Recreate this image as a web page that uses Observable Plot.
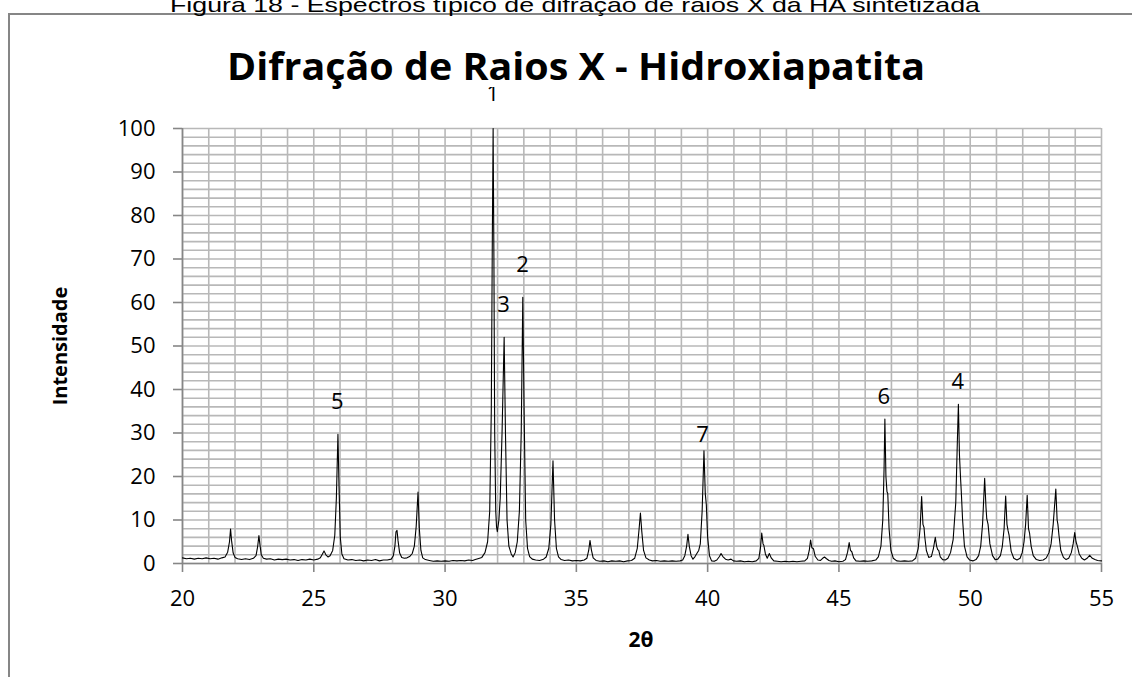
<!DOCTYPE html>
<html>
<head>
<meta charset="utf-8">
<script src="https://cdn.jsdelivr.net/npm/d3@7"></script>
<script src="https://cdn.jsdelivr.net/npm/@observablehq/plot@0.6"></script>
<style>
  html, body { margin: 0; padding: 0; background: #fff; overflow: hidden; }
</style>
</head>
<body>
<div id="chart"></div>
<script>
// ---- Data ----
const twoTheta = [
  20.00,20.15,20.30,20.45,20.60,20.75,20.90,21.05,21.20,21.35,21.50,21.62,21.72,21.79,21.83,21.87,21.93,22.00,22.10,22.25,
  22.40,22.55,22.70,22.80,22.86,22.91,22.95,23.00,23.08,23.20,23.35,23.50,23.65,23.80,23.95,24.10,24.25,24.40,24.55,24.70,
  24.85,25.00,25.15,25.25,25.33,25.39,25.46,25.54,25.62,25.72,25.80,25.86,25.92,25.96,26.01,26.07,26.15,26.30,26.45,26.60,
  26.75,26.90,27.05,27.20,27.35,27.50,27.65,27.80,27.95,28.03,28.09,28.13,28.17,28.21,28.27,28.35,28.45,28.55,28.65,28.75,
  28.83,28.90,28.97,29.02,29.08,29.15,29.25,29.40,29.55,29.70,29.85,30.00,30.15,30.30,30.45,30.60,30.75,30.90,31.05,31.15,
  31.25,31.40,31.52,31.62,31.70,31.76,31.80,31.83,31.86,31.89,31.93,31.96,31.99,32.05,32.10,32.17,32.25,32.30,32.36,32.43,
  32.52,32.59,32.67,32.75,32.83,32.90,32.96,33.01,33.07,33.14,33.22,33.32,33.45,33.60,33.75,33.85,33.95,34.03,34.11,34.17,
  34.24,34.32,34.42,34.55,34.70,34.85,35.00,35.15,35.30,35.40,35.47,35.52,35.57,35.64,35.75,35.90,36.05,36.20,36.35,36.50,
  36.65,36.80,36.95,37.10,37.22,37.32,37.39,37.44,37.49,37.56,37.65,37.78,37.90,38.05,38.20,38.35,38.50,38.65,38.80,38.95,
  39.05,39.13,39.20,39.25,39.30,39.37,39.44,39.52,39.60,39.66,39.72,39.79,39.86,39.91,39.95,40.00,40.07,40.15,40.25,40.35,
  40.45,40.51,40.58,40.68,40.78,40.89,40.98,41.10,41.25,41.40,41.55,41.70,41.85,41.95,42.01,42.06,42.11,42.14,42.20,42.27,
  42.35,42.42,42.52,42.65,42.80,42.95,43.10,43.25,43.40,43.55,43.70,43.80,43.87,43.92,43.97,44.03,44.10,44.20,44.30,44.38,
  44.45,44.53,44.62,44.72,44.85,45.00,45.15,45.25,45.33,45.39,45.44,45.49,45.56,45.65,45.80,45.95,46.10,46.25,46.40,46.50,
  46.60,46.67,46.72,46.75,46.79,46.83,46.86,46.91,46.98,47.07,47.20,47.35,47.50,47.65,47.80,47.92,48.02,48.09,48.15,48.20,
  48.24,48.27,48.33,48.42,48.52,48.60,48.67,48.72,48.76,48.80,48.86,48.95,49.05,49.15,49.25,49.35,49.45,49.51,49.55,49.59,
  49.63,49.66,49.71,49.78,49.88,49.98,50.10,50.22,50.32,50.40,50.47,50.55,50.60,50.63,50.68,50.75,50.85,50.95,51.05,51.15,
  51.22,51.29,51.35,51.40,51.44,51.48,51.56,51.66,51.78,51.90,51.98,52.05,52.11,52.17,52.22,52.26,52.32,52.40,52.52,52.65,
  52.78,52.90,53.00,53.08,53.16,53.26,53.31,53.34,53.38,53.45,53.55,53.65,53.75,53.85,53.92,53.98,54.03,54.08,54.15,54.25,
  54.35,54.45,54.55,54.65,54.75,54.85,55.00
];
const intensity = [
  1.3,1.1,1.2,1.0,1.2,1.1,1.3,1.1,1.2,1.0,1.3,1.5,2.6,5.0,7.9,5.2,2.4,1.4,1.1,0.9,
  1.1,0.9,1.2,1.8,3.8,6.4,4.3,2.0,1.2,1.0,1.1,0.8,1.0,0.9,1.0,0.8,0.9,0.7,0.9,0.8,
  1.0,0.8,1.0,1.3,2.2,2.9,2.0,1.5,1.8,3.0,6.5,15.0,29.7,18.0,6.0,2.2,1.1,0.8,0.9,0.7,
  0.8,0.6,0.8,0.7,0.9,0.6,0.8,0.8,1.0,1.8,4.0,7.3,7.6,5.2,2.4,1.4,1.2,1.3,1.6,2.3,
  4.0,8.5,16.4,8.0,3.0,1.3,0.9,0.7,0.5,0.6,0.5,0.6,0.5,0.7,0.6,0.7,0.6,0.8,0.7,0.9,
  1.1,1.4,2.5,5.0,12.0,35.0,75.0,100.0,70.0,30.0,12.0,8.4,7.3,10.0,15.0,30.0,52.0,30.0,10.0,4.0,
  2.2,1.5,2.5,5.0,12.0,30.0,61.2,35.0,10.0,3.5,1.6,1.0,0.8,0.7,1.0,1.5,3.5,9.0,23.6,10.0,
  3.5,1.5,0.9,0.7,0.8,0.6,0.7,0.6,0.8,1.2,3.0,5.3,3.2,1.3,0.7,0.5,0.6,0.4,0.6,0.5,
  0.6,0.4,0.6,0.7,1.2,3.5,8.0,11.6,7.5,3.0,1.3,0.8,0.6,0.7,0.5,0.6,0.5,0.6,0.5,0.6,
  0.8,1.8,4.0,6.7,4.0,1.8,1.0,1.6,2.4,3.0,4.5,12.0,25.9,16.0,13.5,6.0,1.8,0.6,0.5,0.8,
  1.6,2.3,1.6,1.0,0.8,1.0,0.6,0.5,0.6,0.4,0.5,0.4,0.6,1.2,3.5,7.0,4.5,4.2,2.2,1.2,
  2.3,1.3,0.6,0.5,0.4,0.5,0.4,0.5,0.4,0.5,0.6,1.2,3.0,5.4,3.6,3.4,1.6,0.8,0.7,1.2,
  1.5,1.1,0.7,0.5,0.6,0.4,0.5,0.9,2.6,4.8,3.0,2.7,1.3,0.6,0.5,0.6,0.5,0.6,0.8,1.5,
  4.0,10.0,22.0,33.2,20.0,16.5,16.1,8.0,3.0,1.2,0.6,0.5,0.6,0.5,0.6,1.2,3.5,8.0,15.4,9.0,
  8.3,6.1,3.0,1.4,1.6,3.5,6.0,4.0,3.2,3.0,1.5,0.9,0.8,1.2,2.5,5.5,14.0,28.0,36.6,25.0,
  19.9,16.5,10.0,4.0,1.5,0.8,0.6,0.9,1.8,4.0,9.0,19.6,13.0,10.3,9.0,4.5,1.8,0.9,1.0,1.8,
  3.8,8.0,15.5,9.0,7.6,6.5,2.8,1.2,0.8,1.2,2.5,5.0,9.0,15.7,8.0,7.0,4.0,1.8,0.9,0.7,
  0.8,1.3,2.5,4.5,9.0,17.1,10.0,9.0,6.5,3.0,1.4,0.9,1.2,2.5,4.5,7.1,5.0,4.0,2.2,1.2,
  0.8,1.2,1.9,1.2,0.9,0.7,0.6
];

// Peak labels (text, centre position in data units)
const peakText = ["1", "2", "3", "4", "5", "6", "7"];
const peakTheta = [31.82, 32.95, 32.23, 49.53, 25.90, 46.71, 39.81];
const peakLabelY = [108.0, 68.6, 59.4, 41.8, 37.2, 38.4, 29.6];

// Ticks & grid
const xTicks = [20, 25, 30, 35, 40, 45, 50, 55];
const yTicks = [0, 10, 20, 30, 40, 50, 60, 70, 80, 90, 100];
const xGrid = d3.range(20, 56, 1);
const yGrid = d3.range(0, 101, 2);

const captionText = "Figura 18 - Espectros típico de difração de raios X da HA sintetizada";
const titleText = "Difração de Raios X - Hidroxiapatita";
const xLabel = "2θ";
const yLabel = "Intensidade";

// ---- Build ----
const data = twoTheta.map((t, i) => ({t, v: intensity[i]}));
const labels = peakText.map((s, i) => ({s, t: peakTheta[i], v: peakLabelY[i]}));

const axisGray = "#868686";
const gridGray = "#b8b8b8";

const chart = Plot.plot({
  width: 1132,
  height: 677,
  marginLeft: 182,
  marginRight: 31,
  marginTop: 128,
  marginBottom: 114,
  style: {fontFamily: "'Open Sans', sans-serif", fontSize: "21px", color: "#000", background: "#fff", overflow: "hidden"},
  x: {domain: [20, 55]},
  y: {domain: [0, 100]},
  marks: [
    Plot.gridX(xGrid, {stroke: gridGray, strokeOpacity: 1, strokeWidth: 1.6}),
    Plot.gridY(yGrid, {stroke: gridGray, strokeOpacity: 1, strokeWidth: 1.6}),
    Plot.ruleY([0], {stroke: axisGray, strokeWidth: 1.6}),
    Plot.ruleX([20], {stroke: axisGray, strokeWidth: 1.6}),
    Plot.axisX(xTicks, {tickSize: 9, tickPadding: 18, stroke: axisGray, strokeWidth: 1.6, label: null, fontSize: 22, fill: "#000"}),
    Plot.axisY(yTicks, {tickSize: 9, tickPadding: 18, stroke: axisGray, strokeWidth: 1.6, label: null, fontSize: 22, fill: "#000"}),
    Plot.line(data, {x: "t", y: "v", stroke: "#000", strokeWidth: 1.1}),
    Plot.text(labels, {x: "t", y: "v", text: "s", fontSize: 22, lineAnchor: "middle", textAnchor: "middle", fill: "#000"})
  ]
});

document.getElementById("chart").appendChild(chart);

const svg = d3.select(chart);

// chart-area frame (extends past the right/bottom edges)
svg.append("rect")
  .attr("x", 9).attr("y", 14).attr("width", 1300).attr("height", 900)
  .attr("fill", "none").attr("stroke", axisGray).attr("stroke-width", 2);

// caption above (its top is cut by the page edge, as in the reference)
svg.append("text")
  .attr("x", 575).attr("y", 12)
  .attr("text-anchor", "middle")
  .attr("font-family", "'Liberation Sans', Arial, sans-serif")
  .attr("font-size", 21)
  .attr("textLength", 810).attr("lengthAdjust", "spacingAndGlyphs")
  .attr("fill", "#000")
  .text(captionText);

// title box hides the very top of the "1" label
svg.append("rect")
  .attr("x", 220).attr("y", 40).attr("width", 712).attr("height", 47)
  .attr("fill", "#fff");
svg.append("text")
  .attr("x", 576).attr("y", 80)
  .attr("text-anchor", "middle")
  .attr("font-family", "'Open Sans', sans-serif")
  .attr("font-weight", "bold")
  .attr("font-size", 37)
  .attr("textLength", 698).attr("lengthAdjust", "spacingAndGlyphs")
  .attr("fill", "#000")
  .text(titleText);

// axis titles
svg.append("text")
  .attr("transform", "translate(67,346) rotate(-90)")
  .attr("text-anchor", "middle")
  .attr("font-family", "'Open Sans', sans-serif")
  .attr("font-weight", "bold")
  .attr("font-size", 20)
  .attr("fill", "#000")
  .text(yLabel);
svg.append("text")
  .attr("x", 641).attr("y", 647)
  .attr("text-anchor", "middle")
  .attr("font-family", "'Open Sans', sans-serif")
  .attr("font-weight", "bold")
  .attr("font-size", 21)
  .attr("fill", "#000")
  .text(xLabel);
</script>
</body>
</html>
